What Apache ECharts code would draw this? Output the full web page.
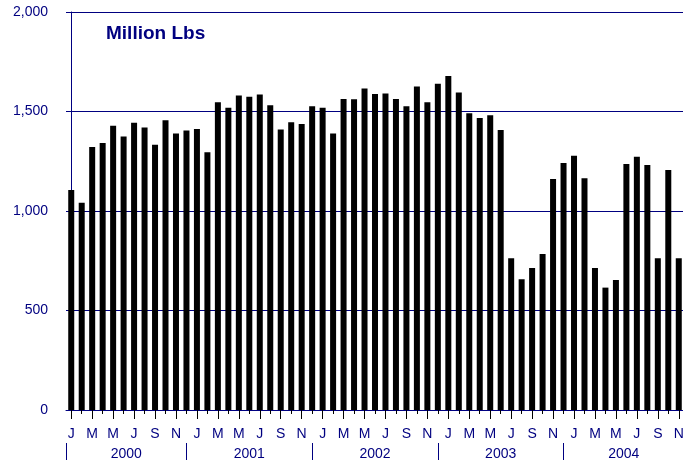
<!DOCTYPE html>
<html>
<head>
<meta charset="utf-8">
<title>Million Lbs</title>
<script src="https://cdn.jsdelivr.net/npm/echarts@6/dist/echarts.min.js"></script>
<style>
  html, body { margin: 0; padding: 0; background: #fff; }
  #chart { width: 683px; height: 460px; }
</style>
</head>
<body>
<div id="chart"></div>
<script>
  // monthly categories, Jan 2000 - Nov 2004
  var monthLetters = ['J', 'F', 'M', 'A', 'M', 'J', 'J', 'A', 'S', 'O', 'N', 'D'];
  var years = ['2000', '2001', '2002', '2003', '2004'];
  var monthsPerYear = [12, 12, 12, 12, 11];

  var volumes = [
    1105, 1042, 1321, 1342, 1429, 1375, 1444, 1420, 1333, 1456, 1389, 1405,
    1412, 1295, 1546, 1519, 1581, 1574, 1586, 1531, 1410, 1446, 1437, 1526,
    1519, 1389, 1563, 1561, 1616, 1588, 1591, 1563, 1526, 1626, 1546, 1640,
    1678, 1596, 1491, 1467, 1481, 1407, 762, 657, 714, 784, 1161, 1241,
    1278, 1164, 714, 615, 653, 1236, 1273, 1231, 762, 1206, 762
  ];

  var yTicks = [0, 500, 1000, 1500, 2000];

  var months = [];
  var yearSeps = [];   // separator positions (in month index units)
  var yearMids = [];   // label positions
  var idx = 0;
  years.forEach(function (y, i) {
    for (var m = 0; m < monthsPerYear[i]; m++) months.push(monthLetters[m]);
    var start = i === 0 ? -0.5 : idx - 1;
    var end = i === years.length - 1 ? idx + monthsPerYear[i] - 0.5 : idx + monthsPerYear[i] - 1;
    yearSeps.push(start);
    yearMids.push((start + end) / 2);
    idx += monthsPerYear[i];
  });

  var navy = '#000080';
  var font = 'Arial, "Liberation Sans", sans-serif';

  var myChart = echarts.init(document.getElementById('chart'));
  myChart.setOption({
    animation: false,
    title: {
      text: 'Million Lbs',
      left: 101,
      top: 19,
      textStyle: { color: navy, fontSize: 19, fontWeight: 'bold', fontFamily: font }
    },
    grid: { left: 66, top: 12, width: 618, height: 398, containLabel: false, outerBoundsMode: 'none' },
    xAxis: [
      {
        type: 'category',
        data: months,
        axisLine: { show: true, lineStyle: { color: navy, width: 1 } },
        axisTick: { show: true, alignWithLabel: true, interval: 0, length: 4, lineStyle: { color: '#000', width: 1 } },
        axisLabel: { interval: 1, margin: 17, color: navy, fontSize: 14, fontFamily: font }
      },
      {
        // long ticks under labelled months
        type: 'category',
        data: months,
        position: 'bottom',
        offset: 0,
        axisLine: { show: false },
        axisTick: { show: true, alignWithLabel: true, interval: 1, length: 9, lineStyle: { color: '#000', width: 1 } },
        axisLabel: { show: false }
      },
      {
        // year row
        type: 'value',
        position: 'bottom',
        offset: 33,
        min: -0.5,
        max: volumes.length - 0.5,
        splitLine: { show: false },
        axisLine: { show: false },
        axisTick: { show: true, length: 20, customValues: yearSeps, lineStyle: { color: navy } },
        axisLabel: {
          customValues: yearMids,
          margin: 4,
          color: navy,
          fontSize: 14,
          fontFamily: font,
          formatter: function (v) {
            var k = yearMids.indexOf(v);
            return k >= 0 ? years[k] : '';
          }
        }
      }
    ],
    yAxis: {
      type: 'value',
      min: yTicks[0],
      max: yTicks[yTicks.length - 1],
      interval: 500,
      axisLine: { show: true, lineStyle: { color: navy } },
      axisTick: { show: false },
      splitLine: { lineStyle: { color: navy, width: 1 } },
      axisLabel: {
        margin: 18,
        color: navy,
        fontSize: 14,
        fontFamily: font,
        formatter: function (v) { return v.toLocaleString('en-US'); }
      }
    },
    series: [
      {
        type: 'bar',
        data: volumes,
        barWidth: 6,
        itemStyle: { color: '#000' }
      }
    ]
  });
</script>
</body>
</html>
